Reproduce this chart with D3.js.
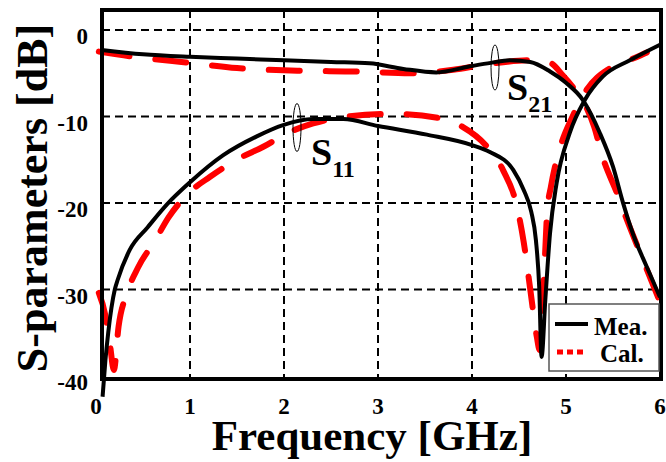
<!DOCTYPE html>
<html>
<head>
<meta charset="UTF-8">
<script src="https://d3js.org/d3.v7.min.js"></script>
<style>
  body { margin: 0; background: #fff; }
  svg text { font-family: "Liberation Serif", "Times New Roman", serif; font-weight: bold; }
</style>
</head>
<body>
<div id="chart"></div>
<script>
// values (GHz / dB)
const s21MeaF  = [0.06, 0.5, 1.0, 1.5, 2.0, 2.5, 2.91, 3.27, 3.62, 3.98, 4.2, 4.4, 4.62, 4.83, 5.0, 5.18, 5.36, 5.5, 5.61, 5.71, 5.86, 6.0];
const s21MeaDB = [-2.3, -2.8, -3.1, -3.3, -3.5, -3.7, -3.85, -4.5, -4.9, -4.2, -3.8, -3.5, -3.7, -4.8, -6.1, -8.1, -11.9, -15.8, -20.1, -23.5, -27.4, -30.9];

const s21CalF  = [0.03, 0.4, 1.0, 1.5, 2.14, 2.78, 3.34, 3.8, 4.2, 4.62, 4.83, 4.97, 5.1, 5.2, 5.3, 5.39, 5.54, 5.65, 5.79, 5.98];
const s21CalDB = [-2.5, -3.1, -3.8, -4.4, -4.7, -4.8, -5.0, -4.6, -3.9, -3.5, -3.8, -5.3, -7.0, -8.6, -11.2, -14.7, -18.8, -22.0, -25.8, -30.9];

const s11MeaF  = [0.07, 0.1, 0.13, 0.2, 0.23, 0.36, 0.55, 0.76, 1.0, 1.35, 1.71, 1.99, 2.31, 2.63, 3.0, 3.52, 4.0, 4.19, 4.44, 4.55, 4.63, 4.68, 4.715, 4.74, 4.78, 4.83, 4.9, 5.04, 5.2, 5.39, 5.68, 6.0];
const s11MeaDB = [-42.4, -38.2, -35.0, -30.0, -28.9, -25.4, -22.8, -20.1, -17.6, -14.5, -12.3, -11.0, -10.3, -10.3, -11.1, -12.1, -13.3, -14.1, -16.2, -18.5, -21.0, -24.3, -29.7, -37.8, -31.2, -23.5, -17.7, -11.9, -8.1, -5.4, -3.5, -1.7];

const s11CalF  = [0.03, 0.1, 0.15, 0.19, 0.24, 0.33, 0.45, 0.63, 0.77, 1.0, 1.21, 1.53, 1.78, 2.04, 2.31, 2.67, 3.16, 3.66, 3.9, 4.16, 4.33, 4.48, 4.55, 4.62, 4.69, 4.72, 4.76, 4.8, 4.84, 4.94, 5.07, 5.22, 5.47, 5.76, 5.86];
const s11CalDB = [-30.4, -33.0, -36.5, -39.3, -34.3, -30.4, -27.4, -24.3, -21.7, -18.7, -17.0, -14.8, -13.5, -11.9, -10.8, -10.0, -9.7, -10.2, -11.2, -13.5, -16.2, -20.5, -24.5, -30.0, -35.5, -37.0, -30.0, -21.0, -18.1, -13.5, -10.0, -6.9, -4.4, -3.1, -2.6];

const xTicks = [0, 1, 2, 3, 4, 5, 6];
const yTicks = [0, -10, -20, -30, -40];
const xGrid = [1, 2, 3, 4, 5];
const yGrid = [0, -10, -20, -30];

const width = 666, height = 462;
const frame = { left: 102, right: 661, top: 10, bottom: 379 };

const svg = d3.select('#chart').append('svg')
    .attr('width', width)
    .attr('height', height);

const x = d3.scaleLinear().domain([0, 6]).range([96, 660]);
const y = d3.scaleLinear().domain([-40, 0]).range([376, 30]);

// grid
svg.selectAll('.vgrid').data(xGrid).join('line')
    .attr('x1', d => x(d)).attr('x2', d => x(d))
    .attr('y1', frame.top).attr('y2', frame.bottom)
    .attr('stroke', '#000').attr('stroke-width', 2).attr('stroke-dasharray', '8,5');
svg.selectAll('.hgrid').data(yGrid).join('line')
    .attr('x1', frame.left).attr('x2', frame.right)
    .attr('y1', d => y(d)).attr('y2', d => y(d))
    .attr('stroke', '#000').attr('stroke-width', 2).attr('stroke-dasharray', '8,5');

// tick labels
svg.selectAll('.xt').data(xTicks).join('text')
    .attr('x', d => x(d)).attr('y', 414)
    .attr('text-anchor', 'middle').attr('font-size', 23)
    .text(d => d);
svg.selectAll('.yt').data(yTicks).join('text')
    .attr('x', 88).attr('y', d => y(d) + 14)
    .attr('text-anchor', 'end').attr('font-size', 23)
    .text(d => d);

// curves
const line = d3.line().x(d => x(d[0])).y(d => y(d[1])).curve(d3.curveMonotoneX);
const zip = (f, v) => f.map((d, i) => [d, v[i]]);

const calStyle = p => p.attr('fill', 'none').attr('stroke', '#ff0000')
    .attr('stroke-width', 6).attr('stroke-linecap', 'round').attr('stroke-dasharray', '31,26');
const meaStyle = p => p.attr('fill', 'none').attr('stroke', '#000')
    .attr('stroke-width', 4).attr('stroke-linejoin', 'round');

svg.append('path').attr('d', line(zip(s21CalF, s21CalDB))).call(calStyle);
svg.append('path').attr('d', line(zip(s11CalF, s11CalDB))).call(calStyle);
svg.append('path').attr('d', line(zip(s21MeaF, s21MeaDB))).call(meaStyle);
svg.append('path').attr('d', line(zip(s11MeaF, s11MeaDB))).call(meaStyle);

// frame
svg.append('rect')
    .attr('x', frame.left).attr('y', frame.top)
    .attr('width', frame.right - frame.left).attr('height', frame.bottom - frame.top)
    .attr('fill', 'none').attr('stroke', '#000').attr('stroke-width', 4);

// annotations
svg.append('ellipse').attr('cx', 495).attr('cy', 67.5).attr('rx', 4).attr('ry', 22.5)
    .attr('fill', 'none').attr('stroke', '#000').attr('stroke-width', 1);
const s21 = svg.append('text').attr('x', 507).attr('y', 100).attr('font-size', 38);
s21.append('tspan').text('S');
s21.append('tspan').attr('font-size', 24).attr('dy', 12).text('21');

svg.append('ellipse').attr('cx', 297).attr('cy', 127.5).attr('rx', 4).attr('ry', 24)
    .attr('fill', 'none').attr('stroke', '#000').attr('stroke-width', 1);
const s11 = svg.append('text').attr('x', 311).attr('y', 165).attr('font-size', 38);
s11.append('tspan').text('S');
s11.append('tspan').attr('font-size', 24).attr('dy', 12).text('11');

// legend
svg.append('rect').attr('x', 549).attr('y', 304).attr('width', 110).attr('height', 67)
    .attr('fill', '#fff').attr('stroke', '#555').attr('stroke-width', 1.5);
svg.append('line').attr('x1', 555).attr('x2', 588).attr('y1', 324).attr('y2', 324)
    .attr('stroke', '#000').attr('stroke-width', 4);
svg.append('text').attr('x', 594).attr('y', 335).attr('font-size', 25).text('Mea.');
svg.append('line').attr('x1', 557).attr('x2', 584).attr('y1', 352).attr('y2', 352)
    .attr('stroke', '#ff0000').attr('stroke-width', 5).attr('stroke-dasharray', '6,4');
svg.append('text').attr('x', 600).attr('y', 362).attr('font-size', 25).text('Cal.');

// axis titles
svg.append('text').attr('x', 372).attr('y', 450)
    .attr('text-anchor', 'middle').attr('font-size', 43)
    .text('Frequency [GHz]');
svg.append('text')
    .attr('transform', 'translate(47,198) rotate(-90)')
    .attr('text-anchor', 'middle').attr('font-size', 44)
    .text('S-parameters [dB]');
</script>
</body>
</html>
